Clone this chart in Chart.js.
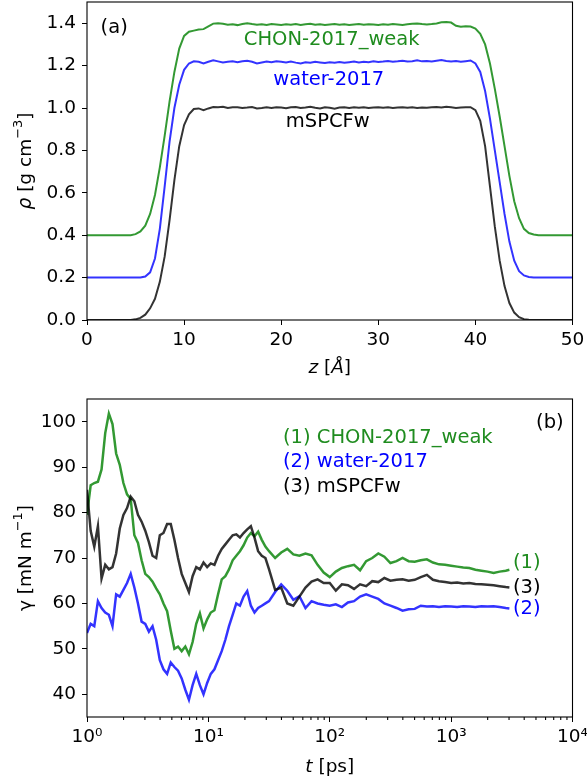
<!DOCTYPE html>
<html lang="en">
<head>
<meta charset="UTF-8">
<title>Density profiles and surface tension</title>
<script src="https://cdn.jsdelivr.net/npm/chart.js"></script>
<style>
  body { margin: 0; background: #fff; }
  #wrap { position: relative; width: 587px; height: 781px; }
  canvas { position: absolute; left: 0; }
</style>
</head>
<body>
<div id="wrap">
  <canvas id="rhoChart" width="587" height="380" style="top:0"></canvas>
  <canvas id="gammaChart" width="587" height="401" style="top:380px"></canvas>
</div>
<script>
// ---- (a) density profiles, z in Angstrom ----
const zVals = [
  0, 0.5, 1, 1.5, 2, 2.5, 3, 3.5, 4, 4.5,
  5, 5.5, 6, 6.5, 7, 7.5, 8, 8.5, 9, 9.5,
  10, 10.5, 11, 11.5, 12, 12.5, 13, 13.5, 14, 14.5,
  15, 15.5, 16, 16.5, 17, 17.5, 18, 18.5, 19, 19.5,
  20, 20.5, 21, 21.5, 22, 22.5, 23, 23.5, 24, 24.5,
  25, 25.5, 26, 26.5, 27, 27.5, 28, 28.5, 29, 29.5,
  30, 30.5, 31, 31.5, 32, 32.5, 33, 33.5, 34, 34.5,
  35, 35.5, 36, 36.5, 37, 37.5, 38, 38.5, 39, 39.5,
  40, 40.5, 41, 41.5, 42, 42.5, 43, 43.5, 44, 44.5,
  45, 45.5, 46, 46.5, 47, 47.5, 48, 48.5, 49, 49.5,
  50
];
const rhoMSPCFw = [
  0, 0, 0, 0, 0, 0, 0, 0, 0, 0,
  0.003, 0.01, 0.025, 0.055, 0.1, 0.18, 0.3, 0.47, 0.66, 0.82,
  0.92, 0.97, 0.995, 0.998, 0.99, 0.998, 1.005, 1.003, 1.006, 1.0,
  1.003, 1.004, 1.0, 1.002, 1.005, 0.998, 1.0, 1.003, 1.0, 1.004,
  1.002, 0.999, 1.003, 1.005, 1.0, 1.002, 1.006, 1.001, 0.998, 1.003,
  1.001, 0.997, 1.002, 1.004, 1.0, 1.003, 1.001, 1.004, 1.0, 1.002,
  1.004, 1.001, 1.003, 1.0, 1.002, 1.004, 1.001, 1.003, 1.0, 1.002,
  1.001, 1.003, 1.005, 1.002, 1.006, 1.003, 1.0, 1.002, 1.003, 1.004,
  0.99, 0.94, 0.82, 0.63, 0.44, 0.28, 0.16, 0.08, 0.035, 0.013,
  0.004, 0.001, 0, 0, 0, 0, 0, 0, 0, 0,
  0
];
const rhoWater = [
  0.2, 0.2, 0.2, 0.2, 0.2, 0.2, 0.2, 0.2, 0.2, 0.2,
  0.2, 0.2, 0.205, 0.225, 0.29, 0.43, 0.63, 0.84, 1.0, 1.11,
  1.18, 1.21, 1.22, 1.218, 1.21, 1.218, 1.225, 1.22, 1.215, 1.218,
  1.22, 1.216, 1.22, 1.223, 1.218, 1.21, 1.215, 1.219, 1.216, 1.22,
  1.218, 1.215, 1.219, 1.214, 1.21, 1.216, 1.213, 1.218, 1.215, 1.212,
  1.216, 1.214, 1.217, 1.213, 1.216, 1.219, 1.215, 1.218, 1.216, 1.22,
  1.217, 1.219, 1.222, 1.218, 1.22, 1.223, 1.219, 1.221, 1.225, 1.22,
  1.222, 1.219, 1.223, 1.226, 1.222, 1.219, 1.222, 1.218, 1.221, 1.224,
  1.21, 1.17, 1.08, 0.95, 0.8, 0.65, 0.5, 0.37, 0.28, 0.23,
  0.21, 0.203, 0.2, 0.2, 0.2, 0.2, 0.2, 0.2, 0.2, 0.2,
  0.2
];
const rhoChon = [
  0.4, 0.4, 0.4, 0.4, 0.4, 0.4, 0.4, 0.4, 0.4, 0.4,
  0.405, 0.418, 0.445, 0.5, 0.59, 0.72, 0.87, 1.03, 1.17, 1.28,
  1.34, 1.36, 1.365, 1.37, 1.372, 1.385, 1.398, 1.4, 1.397, 1.393,
  1.395, 1.391, 1.396, 1.4, 1.396, 1.393, 1.395, 1.392, 1.396, 1.394,
  1.392, 1.395, 1.393, 1.396, 1.392, 1.395, 1.397, 1.393, 1.395, 1.392,
  1.394, 1.396, 1.393, 1.395, 1.392, 1.394, 1.396, 1.393, 1.395, 1.394,
  1.392, 1.395, 1.393, 1.396, 1.394, 1.392, 1.395, 1.397, 1.399, 1.396,
  1.394, 1.396, 1.399, 1.404, 1.406, 1.403, 1.388, 1.383, 1.386, 1.384,
  1.375, 1.35, 1.3, 1.21, 1.09, 0.96, 0.82, 0.68, 0.56, 0.48,
  0.43, 0.41, 0.403, 0.4, 0.4, 0.4, 0.4, 0.4, 0.4, 0.4,
  0.4
];
const zTicks = [0, 10, 20, 30, 40, 50];
const rhoTicks = [0, 0.2, 0.4, 0.6, 0.8, 1.0, 1.2, 1.4];

// ---- (b) running surface tension, t in ps ----
const tVals = [
  1, 1.072, 1.148, 1.230, 1.318, 1.413, 1.514, 1.622, 1.738, 1.862,
  1.995, 2.138, 2.291, 2.455, 2.630, 2.818, 3.020, 3.236, 3.467, 3.715,
  3.981, 4.266, 4.571, 4.898, 5.248, 5.623, 6.026, 6.457, 6.918, 7.413,
  7.943, 8.511, 9.120, 9.772, 10.47, 11.22, 12.02, 12.88, 13.80, 14.79,
  15.85, 16.98, 18.20, 19.50, 20.89, 22.39, 23.99, 25.70, 27.54, 29.51,
  31.62,
  35.48, 39.81, 44.67, 50.12, 56.23, 63.10, 70.79, 79.43, 89.13, 100,
  112.2, 125.9, 141.3, 158.5, 177.8, 199.5, 223.9, 251.2, 281.8, 316.2,
  354.8, 398.1, 446.7, 501.2, 562.3, 631.0, 707.9, 794.3, 891.3, 1000,
  1122, 1259, 1413, 1585, 1778, 1995, 2239, 2512, 2818, 3020
];
const gammaChon = [
  79.5, 86, 86.5, 86.8, 89.5, 97.5, 101.8, 99.5, 93, 90.5,
  86.5, 84, 83, 75, 73.3, 69.5, 66.5, 65.8, 64.8, 63.3,
  62, 60, 58.3, 54, 50, 50.5, 49.5, 50.5, 48.8, 51.5,
  55.5, 57.8, 54.5, 56.5, 58, 58.5, 62, 65.3, 66, 67.5,
  69.5, 70.5, 71.5, 72.8, 74.5, 75.5, 74.8, 75.8, 74, 72.5,
  71.5,
  70, 71.2, 72, 70.8, 70.5, 71, 70.6, 68.5, 66.8, 65.8,
  67, 67.8, 68.2, 68.5, 67.3, 69.3, 70, 71, 70.3, 68.9,
  69.3, 70, 69.3, 69.2, 69.5, 69.7, 69, 68.6, 68.5, 68.3,
  68.1, 67.9, 67.8, 67.4, 67.2, 67, 66.7, 67, 67.2, 67.4
];
const gammaWater = [
  53.5, 55.5, 55, 60.5, 59, 58, 57.5, 55, 62, 61.5,
  63, 64.5, 66.5, 63.5, 60, 56, 55.5, 53.8, 55, 52,
  47.5, 45.5, 44.5, 47, 46, 45.2, 43.5, 41, 38.8, 42,
  44.5, 42, 40, 42.5, 44.5, 45.5, 47.5, 49.5, 52, 55,
  57.5, 60, 59.5, 61.5, 62.7, 59.5, 58, 59, 59.5, 60,
  60.5,
  62.5, 64.2, 62.8, 60.8, 61.6, 59, 60.5, 60, 59.7, 59.5,
  59.8, 59.2, 60.2, 60.5, 61.5, 62, 61.5, 61, 60, 59.5,
  59, 58.4, 58.7, 58.8, 59.5, 59.3, 59.4, 59.2, 59.4, 59.3,
  59.2, 59.4, 59.3, 59.2, 59.4, 59.3, 59.4, 59.2, 59.0, 58.9
];
const gammaMSPCFw = [
  85, 76, 72.5, 77, 65.5, 68.5, 67.5, 68, 71, 76.5,
  79.5, 81, 83.5, 82.5, 79.5, 78, 76, 73.5, 70.5, 70,
  75, 75.5, 77.5, 77.5, 74, 70, 66.5, 64.5, 62.5, 66,
  68, 67.5, 69, 68, 68.8, 68.5, 70.5, 72, 73, 74,
  75, 75.2, 74.5, 75.5, 76.3, 77, 74.5, 71.5, 70.5, 70,
  67.5,
  63, 63.5, 60, 59.5, 61.5, 63.5, 64.8, 65.3, 64.5, 64.5,
  62.8, 64.2, 64, 63.2, 64.2, 63.8, 64.9, 64.7, 65.6, 65,
  65.2, 65.3, 65, 65.2, 65.8, 66.3, 65.2, 64.9, 64.7, 64.5,
  64.6, 64.4, 64.5, 64.3, 64.2, 64.1, 64, 63.8, 63.6, 63.5
];
const tTicks = [1, 10, 100, 1000, 10000];
const gammaTicks = [40, 50, 60, 70, 80, 90, 100];

const FONT = '"DejaVu Sans", sans-serif';
const FS = 18.5;      // tick labels, axis titles
const FS_NOTE = 19.5; // in-plot labels
const GREEN = '#1f8c1f', BLUE = '#0000ff', BLACK = '#000000';
const GREEN_L = 'rgba(0,128,0,0.8)', BLUE_L = 'rgba(0,0,255,0.8)', BLACK_L = 'rgba(0,0,0,0.8)';

Chart.defaults.font.family = FONT;
Chart.defaults.font.size = FS;
Chart.defaults.color = '#000';

function toXY(xs, ys) {
  return xs.map((x, i) => ({ x: x, y: ys[i] }));
}

function segFont(s, fs) {
  const size = s.sup ? fs * 0.7 : fs;
  return (s.it ? 'italic ' : '') + size + 'px ' + FONT;
}

// draw a line of text made of styled pieces (italic, superscript)
function drawRich(ctx, segs, x, y, color, align, fs, rot) {
  ctx.save();
  ctx.translate(x, y);
  if (rot) ctx.rotate(rot);
  let w = 0;
  segs.forEach(s => { ctx.font = segFont(s, fs); w += ctx.measureText(s.t).width; });
  let cx = align === 'center' ? -w / 2 : 0;
  ctx.fillStyle = color;
  ctx.textBaseline = 'middle';
  ctx.textAlign = 'left';
  segs.forEach(s => {
    ctx.font = segFont(s, fs);
    ctx.fillText(s.t, cx, s.sup ? -fs * 0.38 : 0);
    cx += ctx.measureText(s.t).width;
  });
  ctx.restore();
}

const decorPlugin = {
  id: 'decor',
  afterDraw(chart, args, opts) {
    const ctx = chart.ctx, a = chart.chartArea;
    const xs = chart.scales.x, ys = chart.scales.y;
    ctx.save();
    ctx.strokeStyle = '#000';
    ctx.lineWidth = 1.1;
    ctx.strokeRect(a.left, a.top, a.right - a.left, a.bottom - a.top);
    (opts.minor || []).forEach(v => {
      const px = xs.getPixelForValue(v);
      ctx.beginPath();
      ctx.moveTo(px, a.bottom);
      ctx.lineTo(px, a.bottom + 3);
      ctx.stroke();
    });
    ctx.restore();
    (opts.texts || []).forEach(t => {
      drawRich(ctx, t.segs, xs.getPixelForValue(t.x), ys.getPixelForValue(t.y), t.color, t.align, FS_NOTE);
    });
    const cx = (a.left + a.right) / 2, cy = (a.top + a.bottom) / 2;
    drawRich(ctx, opts.xTitle, cx, a.bottom + opts.xTitleOff, '#000', 'center', FS);
    drawRich(ctx, opts.yTitle, 26, cy, '#000', 'center', FS, -Math.PI / 2);
  }
};

function noPad(s) {
  s.paddingTop = 0; s.paddingBottom = 0; s.paddingLeft = 0; s.paddingRight = 0;
}

function axisX(extra) {
  return Object.assign({
    grid: { display: true, drawOnChartArea: false, drawTicks: true, tickLength: 5, color: '#000' },
    border: { display: false },
    ticks: { autoSkip: false, maxRotation: 0, padding: 4, color: '#000' }
  }, extra);
}

function lineSet(data, color, w) {
  return { data: data, showLine: true, borderColor: color, borderWidth: w, pointRadius: 0, tension: 0, fill: false };
}

// ---- chart (a) ----
new Chart(document.getElementById('rhoChart'), {
  type: 'scatter',
  data: {
    datasets: [
      lineSet(toXY(zVals, rhoMSPCFw), BLACK_L, 2),
      lineSet(toXY(zVals, rhoWater), BLUE_L, 2),
      lineSet(toXY(zVals, rhoChon), GREEN_L, 2)
    ]
  },
  options: {
    responsive: false,
    animation: false,
    devicePixelRatio: 1,
    layout: { padding: { left: 0, right: 14.5, top: 2, bottom: 0 } },
    plugins: {
      legend: { display: false },
      tooltip: { enabled: false },
      decor: {
        xTitle: [{ t: 'z', it: true }, { t: ' [' }, { t: 'Å', it: true }, { t: ']' }],
        xTitleOff: 48,
        yTitle: [{ t: 'ρ', it: true }, { t: ' [g cm' }, { t: '−3', sup: true }, { t: ']' }],
        texts: [
          { segs: [{ t: '(a)' }], x: 1.4, y: 1.38, color: BLACK, align: 'left' },
          { segs: [{ t: 'CHON-2017_weak' }], x: 25.2, y: 1.32, color: GREEN, align: 'center' },
          { segs: [{ t: 'water-2017' }], x: 24.9, y: 1.132, color: BLUE, align: 'center' },
          { segs: [{ t: 'mSPCFw' }], x: 24.8, y: 0.934, color: BLACK, align: 'center' }
        ]
      }
    },
    scales: {
      x: axisX({
        type: 'linear', min: 0, max: 50,
        afterBuildTicks: s => { s.ticks = zTicks.map(v => ({ value: v })); },
        afterFit: s => { s.height = 60; noPad(s); }
      }),
      y: axisX({
        type: 'linear', min: 0, max: 1.5,
        ticks: { autoSkip: false, padding: 6, color: '#000', callback: v => v.toFixed(1) },
        afterBuildTicks: s => { s.ticks = rhoTicks.map(v => ({ value: v })); },
        afterFit: s => { s.width = 87; noPad(s); }
      })
    }
  },
  plugins: [decorPlugin]
});

// ---- chart (b) ----
const minorT = [];
[1, 10, 100, 1000].forEach(d => { for (let k = 2; k <= 9; k++) minorT.push(k * d); });
const SUP = { '0': '⁰', '1': '¹', '2': '²', '3': '³', '4': '⁴' };

new Chart(document.getElementById('gammaChart'), {
  type: 'scatter',
  data: {
    datasets: [
      lineSet(toXY(tVals, gammaMSPCFw), BLACK_L, 2.5),
      lineSet(toXY(tVals, gammaWater), BLUE_L, 2.5),
      lineSet(toXY(tVals, gammaChon), GREEN_L, 2.5)
    ]
  },
  options: {
    responsive: false,
    animation: false,
    devicePixelRatio: 1,
    layout: { padding: { left: 0, right: 14.5, top: 19, bottom: 0 } },
    plugins: {
      legend: { display: false },
      tooltip: { enabled: false },
      decor: {
        minor: minorT,
        xTitle: [{ t: 't', it: true }, { t: ' [ps]' }],
        xTitleOff: 50,
        yTitle: [{ t: 'γ [mN m' }, { t: '−1', sup: true }, { t: ']' }],
        texts: [
          { segs: [{ t: '(b)' }], x: 5012, y: 99.8, color: BLACK, align: 'left' },
          { segs: [{ t: '(1) CHON-2017_weak' }], x: 41.2, y: 96.5, color: GREEN, align: 'left' },
          { segs: [{ t: '(2) water-2017' }], x: 41.2, y: 91.2, color: BLUE, align: 'left' },
          { segs: [{ t: '(3) mSPCFw' }], x: 41.2, y: 85.7, color: BLACK, align: 'left' },
          { segs: [{ t: '(1)' }], x: 3230, y: 69.0, color: GREEN, align: 'left' },
          { segs: [{ t: '(3)' }], x: 3230, y: 63.5, color: BLACK, align: 'left' },
          { segs: [{ t: '(2)' }], x: 3230, y: 58.7, color: BLUE, align: 'left' }
        ]
      }
    },
    scales: {
      x: axisX({
        type: 'logarithmic', min: 1, max: 10000,
        ticks: { autoSkip: false, maxRotation: 0, padding: 4, color: '#000',
          callback: v => '10' + SUP[String(Math.round(Math.log10(v)))] },
        afterBuildTicks: s => { s.ticks = tTicks.map(v => ({ value: v })); },
        afterFit: s => { s.height = 64; noPad(s); }
      }),
      y: axisX({
        type: 'linear', min: 35, max: 105,
        ticks: { autoSkip: false, padding: 6, color: '#000' },
        afterBuildTicks: s => { s.ticks = gammaTicks.map(v => ({ value: v })); },
        afterFit: s => { s.width = 87; noPad(s); }
      })
    }
  },
  plugins: [decorPlugin]
});
</script>
</body>
</html>
